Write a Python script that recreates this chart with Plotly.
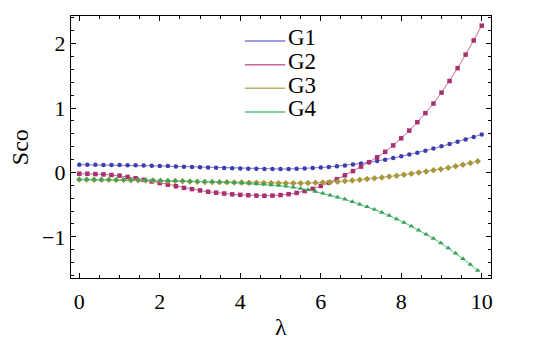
import plotly.graph_objects as go

# ---------------- data ----------------
x_g12 = [round(i * 0.2, 2) for i in range(51)]
x_g34 = [round(i * 0.18333, 3) for i in range(55)]

g1 = [0.120, 0.119, 0.118, 0.117, 0.116, 0.114, 0.112, 0.110, 0.107, 0.104,
      0.101, 0.098, 0.094, 0.090, 0.086, 0.082, 0.078, 0.074, 0.070, 0.066,
      0.062, 0.059, 0.056, 0.054, 0.053, 0.053, 0.054, 0.057, 0.062, 0.068,
      0.076, 0.085, 0.096, 0.108, 0.122, 0.140, 0.157, 0.176, 0.198, 0.223,
      0.250, 0.278, 0.307, 0.337, 0.370, 0.405, 0.440, 0.476, 0.513, 0.551,
      0.590]

g2 = [-0.020, -0.020, -0.025, -0.030, -0.040, -0.050, -0.070, -0.090, -0.115, -0.140,
      -0.165, -0.190, -0.215, -0.240, -0.260, -0.280, -0.300, -0.315, -0.328, -0.340,
      -0.348, -0.355, -0.360, -0.362, -0.360, -0.352, -0.338, -0.318, -0.290, -0.255,
      -0.210, -0.160, -0.105, -0.045, 0.020, 0.090, 0.160, 0.235, 0.320, 0.420,
      0.530, 0.650, 0.780, 0.920, 1.070, 1.240, 1.420, 1.620, 1.830, 2.050,
      2.280]

g3 = [-0.110, -0.111, -0.112, -0.114, -0.115, -0.117, -0.119, -0.121, -0.123, -0.125,
      -0.127, -0.130, -0.133, -0.135, -0.138, -0.141, -0.144, -0.147, -0.149, -0.151,
      -0.154, -0.156, -0.158, -0.160, -0.162, -0.164, -0.166, -0.167, -0.168, -0.168,
      -0.168, -0.165, -0.161, -0.157, -0.151, -0.143, -0.135, -0.125, -0.114, -0.103,
      -0.091, -0.078, -0.064, -0.050, -0.035, -0.019, -0.003, 0.014, 0.032, 0.050,
      0.072, 0.095, 0.119, 0.146, 0.174]

g4 = [-0.110, -0.110, -0.111, -0.112, -0.113, -0.114, -0.115, -0.117, -0.118, -0.120,
      -0.122, -0.124, -0.126, -0.128, -0.131, -0.134, -0.137, -0.140, -0.144, -0.148,
      -0.153, -0.158, -0.164, -0.170, -0.177, -0.185, -0.194, -0.204, -0.216, -0.229,
      -0.250, -0.270, -0.296, -0.325, -0.355, -0.385, -0.418, -0.455, -0.493, -0.533,
      -0.576, -0.622, -0.670, -0.722, -0.778, -0.836, -0.897, -0.961, -1.028, -1.098,
      -1.175, -1.255, -1.340, -1.430, -1.525]

names = ["G1", "G2", "G3", "G4"]
x_ticks = [0, 2, 4, 6, 8, 10]
y_ticks = [-1, 0, 1, 2]

# ---------------- styles ----------------
FONT = "Liberation Serif, Times New Roman, serif"
marker_colors = ["#3d3db0", "#a8306e", "#a8963a", "#36a35a"]
line_colors = ["#7c7cd2", "#c8699c", "#bcae68", "#62bc82"]
symbols = ["circle", "square", "diamond", "triangle-up"]
sizes = [4.5, 4.5, 5, 5]

series = [(x_g12, g1), (x_g12, g2), (x_g34, g3), (x_g34, g4)]

fig = go.Figure()
for (xs, ys), nm, mc, lc, sym, sz in zip(series, names, marker_colors, line_colors, symbols, sizes):
    fig.add_trace(go.Scatter(
        x=xs, y=ys, name=nm, mode="lines+markers",
        line=dict(color=lc, width=1),
        marker=dict(color=mc, symbol=sym, size=sz, line=dict(width=0)),
        showlegend=False,
    ))

axis_common = dict(
    showgrid=False, zeroline=False,
    showline=True, linecolor="black", linewidth=1.3, mirror="allticks",
    ticks="inside", ticklen=5, tickwidth=1, tickcolor="black",
    tickfont=dict(family=FONT, size=22, color="black"),
)

# the page body adds an 8px offset, so margins are reduced by 8 at left/top
fig.update_layout(
    width=534, height=342,
    margin=dict(l=63, r=51, t=8, b=72),
    plot_bgcolor="white", paper_bgcolor="white",
    font=dict(family=FONT, color="black"),
    showlegend=False,
    xaxis=dict(range=[-0.206, 10.23], tickvals=x_ticks, ticklabelstandoff=3,
               minor=dict(dtick=0.5, ticks="inside", ticklen=3, tickcolor="black", showgrid=False),
               **axis_common),
    yaxis=dict(range=[-1.64, 2.43], tickvals=y_ticks,
               minor=dict(dtick=0.2, ticks="inside", ticklen=3, tickcolor="black", showgrid=False),
               **axis_common),
)

# axis titles
fig.add_annotation(text="Sco", xref="paper", yref="paper", x=-0.121, y=0.5,
                   xanchor="center", yanchor="middle",
                   showarrow=False, textangle=-90,
                   font=dict(family=FONT, size=24, color="black"))
fig.add_annotation(text="λ", xref="paper", yref="paper", x=0.5, y=-0.187,
                   xanchor="center", yanchor="middle",
                   showarrow=False,
                   font=dict(family=FONT, size=24, color="black"))

# legend (lines only, as in the reference)
leg_y = [0.9046, 0.814, 0.724, 0.634]
for nm, lc, yy in zip(names, line_colors, leg_y):
    fig.add_shape(type="line", xref="paper", yref="paper",
                  x0=0.414, x1=0.51, y0=yy, y1=yy,
                  line=dict(color=lc, width=1.5))
    fig.add_annotation(text=nm, xref="paper", yref="paper", x=0.512, y=yy + 0.012,
                       xanchor="left", yanchor="middle", showarrow=False,
                       font=dict(family=FONT, size=23, color="black"))

fig.write_html("out.html")
